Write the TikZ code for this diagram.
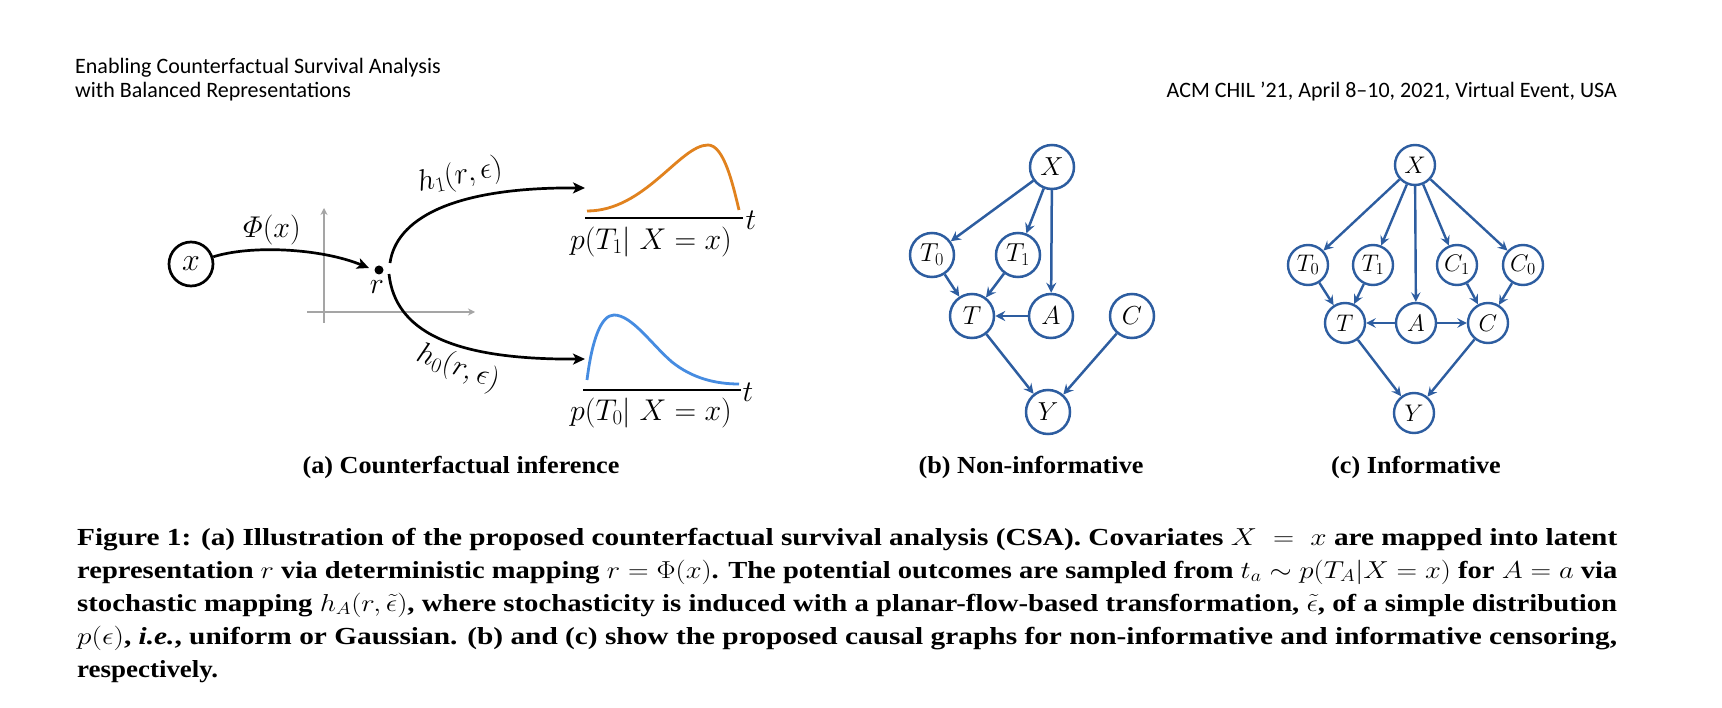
\RequirePackage{fix-cm}
\documentclass[tikz,border=0pt]{standalone}
\usepackage{amsmath}
\usepackage{graphicx}
\usepackage{fontspec}
\setmainfont{Liberation Serif}
\newfontfamily\headfont{Carlito}
\usetikzlibrary{arrows.meta}
\definecolor{gblue}{RGB}{45,93,160}
\definecolor{corange}{RGB}{225,130,30}
\definecolor{cblue}{RGB}{70,140,225}
\definecolor{axgray}{RGB}{165,165,165}
\newcommand{\capfit}[1]{\resizebox{1540pt}{\height}{#1}}
\newcommand{\subwide}[1]{\scalebox{1.07}[1]{#1}}
\tikzset{
  hdr/.style={inner sep=0pt, font=\headfont\fontsize{22}{26}\selectfont},
  capline/.style={inner sep=0pt, anchor=base west, font=\bfseries\fontsize{24.5}{30}\selectfont},
  subcap/.style={inner sep=0pt, anchor=base, font=\bfseries\fontsize{24.5}{28}\selectfont},
  alab/.style={inner sep=0pt, font=\fontsize{30}{34}\selectfont},
  xcirc/.style={circle, draw, line width=2.7pt, minimum size=44pt, inner sep=0pt, font=\fontsize{32}{34}\selectfont},
  karrow/.style={line width=2.7pt, -{Stealth[length=12pt,width=11pt,inset=3pt]}},
  axisline/.style={draw=axgray, line width=2.7pt, -{Stealth[length=7pt,width=7pt]}},
  dens/.style={line width=2.8pt},
  bnode/.style={circle, draw=gblue, line width=2.5pt, minimum size=44pt, inner sep=0pt, font=\fontsize{26}{28}\selectfont},
  cnode/.style={circle, draw=gblue, line width=2.4pt, minimum size=40pt, inner sep=0pt, font=\fontsize{24}{26}\selectfont},
  bedge/.style={draw=gblue, line width=2.5pt, -{Stealth[length=10pt,width=10pt,inset=3.5pt]}},
  cedge/.style={draw=gblue, line width=2.4pt, -{Stealth[length=9.5pt,width=9.5pt,inset=3.5pt]}},
}
\begin{document}
\begin{tikzpicture}[x=1pt,y=-1pt]
\useasboundingbox[fill=white] (0,0) rectangle (1722,708);

% header
\node[hdr, anchor=base west] (hd1) at (75,74) {Enabling Counterfactual Survival Analysis};
\node[hdr, anchor=base west] (hd2) at (75,98) {with Balanced Representations};
\node[hdr, anchor=base east] (hd3) at (1617,98) {ACM CHIL ’21, April 8–10, 2021, Virtual Event, USA};

% ---------- (a) ----------
\draw[axisline] (307,312) -- (475,312);
\draw[axisline] (324,323) -- (324,208);
\node[xcirc] (xn) at (191,264) {$x$};
\node[circle, fill, inner sep=0pt, minimum size=9pt] (rdot) at (379,270) {};
\node[alab] (rlab) at (377,287) {$r$};
\coordinate (phiend) at (369,268);
\draw[karrow] (xn) .. controls (250,245) and (320,248) .. (phiend);
\node[alab] (philab) at (272,230) {$\varPhi(x)$};
\coordinate (u0) at (390,263);
\coordinate (u1) at (585,188);
\draw[karrow] (u0) .. controls (396,220) and (450,187) .. (u1);
\coordinate (l0) at (389,274);
\coordinate (l1) at (585,359);
\draw[karrow] (l0) .. controls (395,330) and (450,360) .. (l1);
\node[alab, rotate=11] (h1lab) at (460,176) {$h_1(r,\epsilon)$};
\node[alab, rotate=-20] (h0lab) at (458,368) {$h_0(r,\epsilon)$};
% densities
\draw[dens, corange] (587,211) .. controls (645,211) and (680,145) .. (708,145)
   .. controls (724,145) and (733,185) .. (739,210);
\draw[line width=2.7pt] (585,218) -- (743,218);
\node[alab] (t1) at (751,220) {$t$};
\node[alab] (p1) at (651,242) {$p(T_1|\;X=x)$};
\draw[dens, cblue] (587,380) .. controls (592,340) and (601,315) .. (614,315)
   .. controls (632,315) and (652,345) .. (672,362)
   .. controls (692,378) and (715,384) .. (739,384);
\draw[line width=2.7pt] (583,390) -- (741,390);
\node[alab] (t0) at (748,392) {$t$};
\node[alab] (p0) at (651,413) {$p(T_0|\;X=x)$};
\node[subcap] (capa) at (461,474) {\subwide{(a) Counterfactual inference}};

% ---------- (b) ----------
\node[bnode] (bX) at (1052,167) {$X$};
\node[bnode] (bT0) at (932,255) {$T_0$};
\node[bnode] (bT1) at (1018,255) {$T_1$};
\node[bnode] (bT) at (972,316) {$T$};
\node[bnode] (bA) at (1051,316) {$A$};
\node[bnode] (bC) at (1132,316) {$C$};
\node[bnode] (bY) at (1048,412) {$Y$};
\draw[bedge] (bX) -- (bT0);
\draw[bedge] (bX) -- (bT1);
\draw[bedge] (bX) -- (bA);
\draw[bedge] (bT0) -- (bT);
\draw[bedge] (bT1) -- (bT);
\draw[bedge] (bA) -- (bT);
\draw[bedge] (bT) -- (bY);
\draw[bedge] (bC) -- (bY);
\node[subcap] (capb) at (1031,474) {\subwide{(b) Non-informative}};

% ---------- (c) ----------
\node[cnode] (cX) at (1415,165) {$X$};
\node[cnode] (cT0) at (1308,265) {$T_0$};
\node[cnode] (cT1) at (1373,265) {$T_1$};
\node[cnode] (cC1) at (1457,265) {$C_1$};
\node[cnode] (cC0) at (1523,265) {$C_0$};
\node[cnode] (cT) at (1345,323) {$T$};
\node[cnode] (cA) at (1416,323) {$A$};
\node[cnode] (cC) at (1488,323) {$C$};
\node[cnode] (cY) at (1414,413) {$Y$};
\draw[cedge] (cX) -- (cT0);
\draw[cedge] (cX) -- (cT1);
\draw[cedge] (cX) -- (cA);
\draw[cedge] (cX) -- (cC1);
\draw[cedge] (cX) -- (cC0);
\draw[cedge] (cT0) -- (cT);
\draw[cedge] (cT1) -- (cT);
\draw[cedge] (cC1) -- (cC);
\draw[cedge] (cC0) -- (cC);
\draw[cedge] (cA) -- (cT);
\draw[cedge] (cA) -- (cC);
\draw[cedge] (cT) -- (cY);
\draw[cedge] (cC) -- (cY);
\node[subcap] (capc) at (1416,474) {\subwide{(c) Informative}};

% ---------- caption ----------
\node[capline] (cl1) at (77,545) {\capfit{Figure 1: (a) Illustration of the proposed counterfactual survival analysis (CSA). Covariates $X\;=\;x$ are mapped into latent}};
\node[capline] (cl2) at (77,578) {\capfit{representation $r$ via deterministic mapping $r=\Phi(x)$. The potential outcomes are sampled from $t_a\sim p(T_A|X=x)$ for $A=a$ via}};
\node[capline] (cl3) at (77,611) {\capfit{stochastic mapping $h_A(r,\tilde{\epsilon})$, where stochasticity is induced with a planar-flow-based transformation, $\tilde{\epsilon}$, of a simple distribution}};
\node[capline] (cl4) at (77,644) {\capfit{$p(\epsilon)$, \textit{i.e.}, uniform or Gaussian. (b) and (c) show the proposed causal graphs for non-informative and informative censoring,}};
\node[capline] (cl5) at (77,677) {\scalebox{1.1}[1]{respectively.}};
\end{tikzpicture}
\end{document}
